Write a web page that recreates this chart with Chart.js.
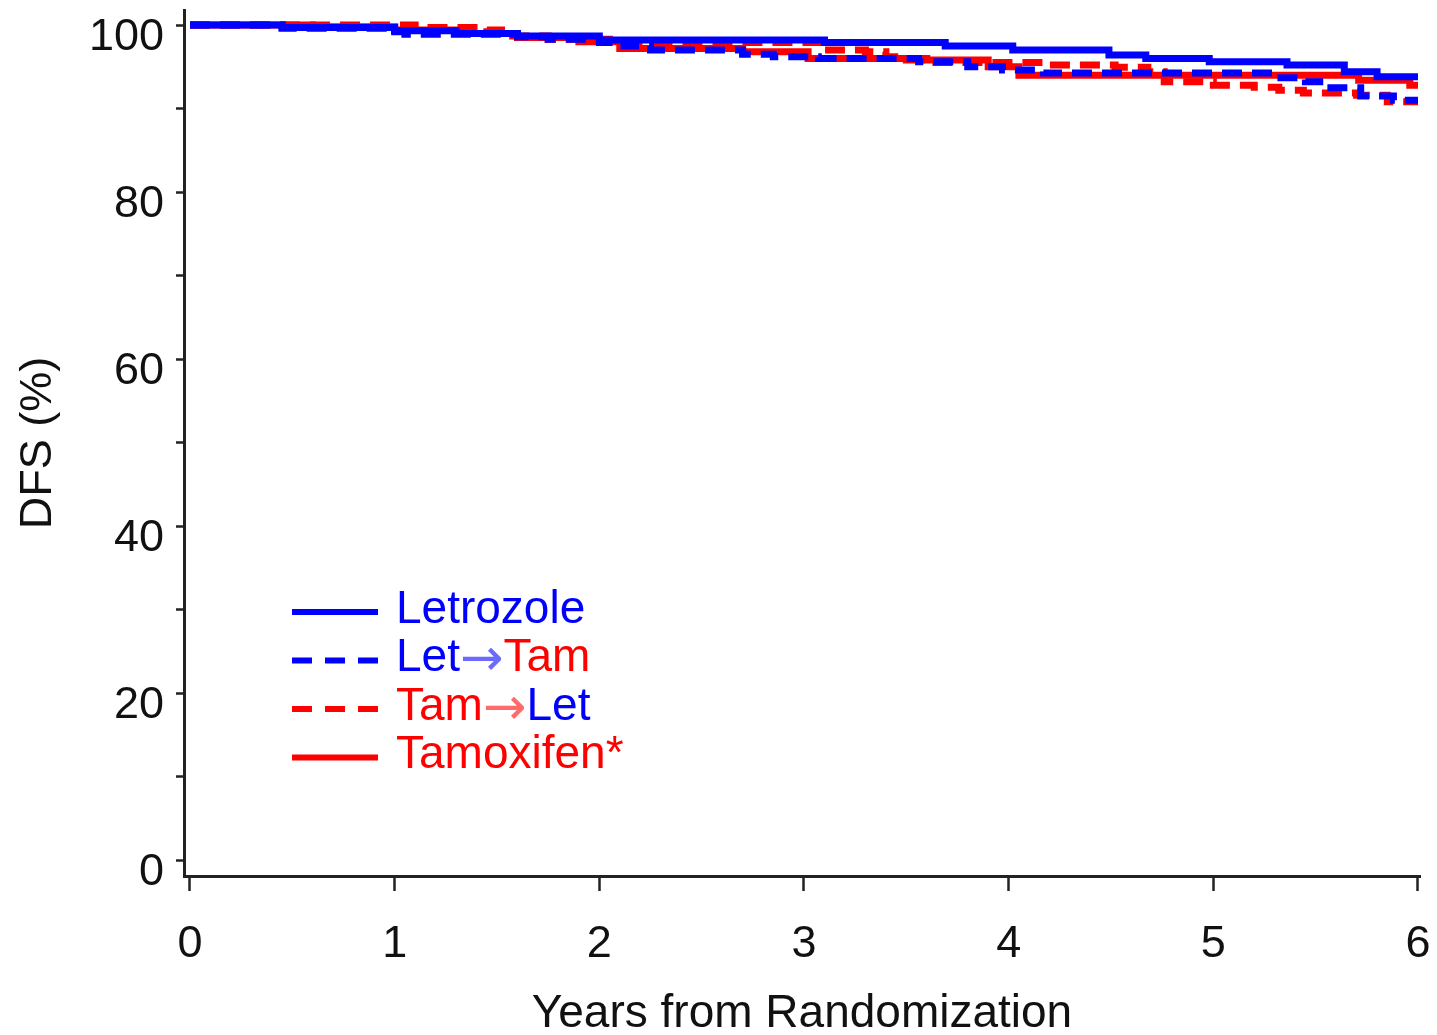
<!DOCTYPE html>
<html>
<head>
<meta charset="utf-8">
<script src="https://cdn.jsdelivr.net/npm/chart.js@4.4.1/dist/chart.umd.min.js"></script>
<style>
  html, body { margin: 0; padding: 0; background: #fff; }
  #wrap { width: 1437px; height: 1035px; }
</style>
</head>
<body>
<div id="wrap"><canvas id="dfsChart" width="1437" height="1035"></canvas></div>
<script>
// Kaplan-Meier style curves: year where each step starts, DFS % from there on
const letrozoleYears = [0, 0.45, 1.0, 1.3, 1.6, 2.0, 3.1, 3.69, 4.02, 4.49, 4.67, 4.98, 5.36, 5.64, 5.80, 6.0];
const letrozoleDfs   = [100, 99.7, 99.3, 99.0, 98.7, 98.2, 97.9, 97.5, 97.0, 96.4, 96.0, 95.6, 95.2, 94.4, 93.8, 93.8];

const letTamYears = [0, 0.45, 1.0, 1.05, 1.6, 1.75, 2.0, 2.12, 2.25, 2.7, 2.85, 3.07, 3.56, 3.8, 3.97, 4.17, 5.3, 5.45, 5.52, 5.72, 5.88, 6.0];
const letTamDfs   = [100, 99.6, 99.2, 98.9, 98.6, 98.3, 97.9, 97.5, 97.0, 96.5, 96.2, 96.0, 95.6, 95.0, 94.6, 94.25, 93.7, 93.2, 92.5, 91.5, 91.0, 91.0];

const tamLetYears = [0, 1.1, 1.45, 1.55, 1.75, 2.05, 3.12, 3.3, 3.4, 3.5, 3.62, 4.2, 4.52, 4.68, 4.76, 5.0, 5.2, 5.32, 5.44, 5.7, 5.85, 6.0];
const tamLetDfs   = [100, 99.7, 99.4, 98.7, 98.3, 97.9, 97.0, 96.8, 96.2, 95.8, 95.5, 95.2, 94.95, 94.4, 93.2, 92.8, 92.55, 92.2, 91.85, 91.6, 90.8, 90.8];

const tamoxifenYears = [0, 0.6, 1.0, 1.3, 1.6, 1.9, 2.1, 2.7, 3.02, 3.6, 3.9, 4.05, 5.71, 5.96, 6.0];
const tamoxifenDfs   = [100, 99.8, 99.4, 99.0, 98.5, 98.0, 97.2, 96.8, 96.0, 95.8, 95.0, 94.0, 93.4, 92.8, 92.8];

const xTicks = [0, 1, 2, 3, 4, 5, 6];
const yTicks = [0, 10, 20, 30, 40, 50, 60, 70, 80, 90, 100];
const xTitle = "Years from Randomization";
const yTitle = "DFS (%)";

const BLUE = "#0000ff";
const RED = "#ff0000";
const FONT = "'Liberation Sans', Arial, sans-serif";
const INK = "#111";

function toPoints(years, vals) {
  return years.map((t, i) => ({ x: t, y: vals[i] }));
}

// legend with two-coloured labels, drawn by hand inside the plot
const legendRows = [
  { color: BLUE, dash: [], parts: [["Letrozole", BLUE]] },
  { color: BLUE, dash: [20, 13], parts: [["Let", BLUE], ["\u2192", "#6a6aff"], ["Tam", RED]] },
  { color: RED, dash: [20, 13], parts: [["Tam", RED], ["\u2192", "#ff6a6a"], ["Let", BLUE]] },
  { color: RED, dash: [], parts: [["Tamoxifen*", RED]] }
];

const legendPlugin = {
  id: "dfsLegend",
  afterDraw(chart) {
    const ctx = chart.ctx;
    ctx.save();
    ctx.textBaseline = "middle";
    legendRows.forEach((row, i) => {
      const y = 612 + i * 48.5;
      ctx.strokeStyle = row.color;
      ctx.lineWidth = 6;
      ctx.setLineDash(row.dash);
      ctx.beginPath();
      ctx.moveTo(292, y);
      ctx.lineTo(378, y);
      ctx.stroke();
      let x = 396;
      row.parts.forEach(([txt, col]) => {
        // the arrow is thin and long in the original, DejaVu's is closer
        ctx.font = txt === "\u2192" ? "52px 'DejaVu Sans', sans-serif" : "46px " + FONT;
        ctx.fillStyle = col;
        ctx.fillText(txt, x, txt === "\u2192" ? y + 1 : y - 2);
        x += ctx.measureText(txt).width;
      });
    });
    ctx.restore();
  }
};

new Chart(document.getElementById("dfsChart"), {
  type: "line",
  data: {
    datasets: [
      { label: "Letrozole", data: toPoints(letrozoleYears, letrozoleDfs), borderColor: BLUE, order: 1 },
      { label: "Let\u2192Tam", data: toPoints(letTamYears, letTamDfs), borderColor: BLUE, borderDash: [20, 10], order: 0 },
      { label: "Tam\u2192Let", data: toPoints(tamLetYears, tamLetDfs), borderColor: RED, borderDash: [20, 10], order: 2 },
      { label: "Tamoxifen*", data: toPoints(tamoxifenYears, tamoxifenDfs), borderColor: RED, order: 3 }
    ]
  },
  options: {
    responsive: false,
    animation: false,
    layout: { padding: { top: 10, right: 17, left: 0, bottom: 0 } },
    plugins: { legend: { display: false }, tooltip: { enabled: false } },
    elements: {
      point: { radius: 0 },
      line: { borderWidth: 7, stepped: true, tension: 0, fill: false }
    },
    scales: {
      x: {
        type: "linear",
        min: -0.0293,
        max: 6.0098,
        afterBuildTicks: s => { s.ticks = xTicks.map(v => ({ value: v })); },
        afterFit: s => { s.height = 159; s.paddingLeft = 0; s.paddingRight = 0; },
        grid: { display: true, drawOnChartArea: false, drawTicks: true, tickLength: 15, tickWidth: 2.5, tickColor: "#222" },
        border: { display: true, color: "#222", width: 3 },
        ticks: { font: { family: FONT, size: 45 }, color: INK, padding: 27, maxRotation: 0, autoSkip: false },
        title: { display: true, text: xTitle, color: INK, font: { family: FONT, size: 46, lineHeight: 0.88 }, padding: 0 }
      },
      y: {
        type: "linear",
        min: -1.916,
        max: 101.8,
        afterBuildTicks: s => { s.ticks = yTicks.map(v => ({ value: v })); },
        afterFit: s => { s.width = 184; s.paddingTop = 0; s.paddingBottom = 0; },
        grid: { display: true, drawOnChartArea: false, drawTicks: true, tickLength: 8, tickWidth: 2.5, tickColor: "#222" },
        border: { display: true, color: "#222", width: 3 },
        ticks: {
          font: { family: FONT, size: 45 },
          color: INK,
          padding: 12,
          labelOffset: 13,
          autoSkip: false,
          callback: v => (v % 20 === 0 ? String(v) : "")
        },
        title: { display: true, text: yTitle, color: INK, font: { family: FONT, size: 45, lineHeight: 1.07 }, padding: { top: 15, bottom: 0 } }
      }
    }
  },
  plugins: [legendPlugin]
});
</script>
</body>
</html>
